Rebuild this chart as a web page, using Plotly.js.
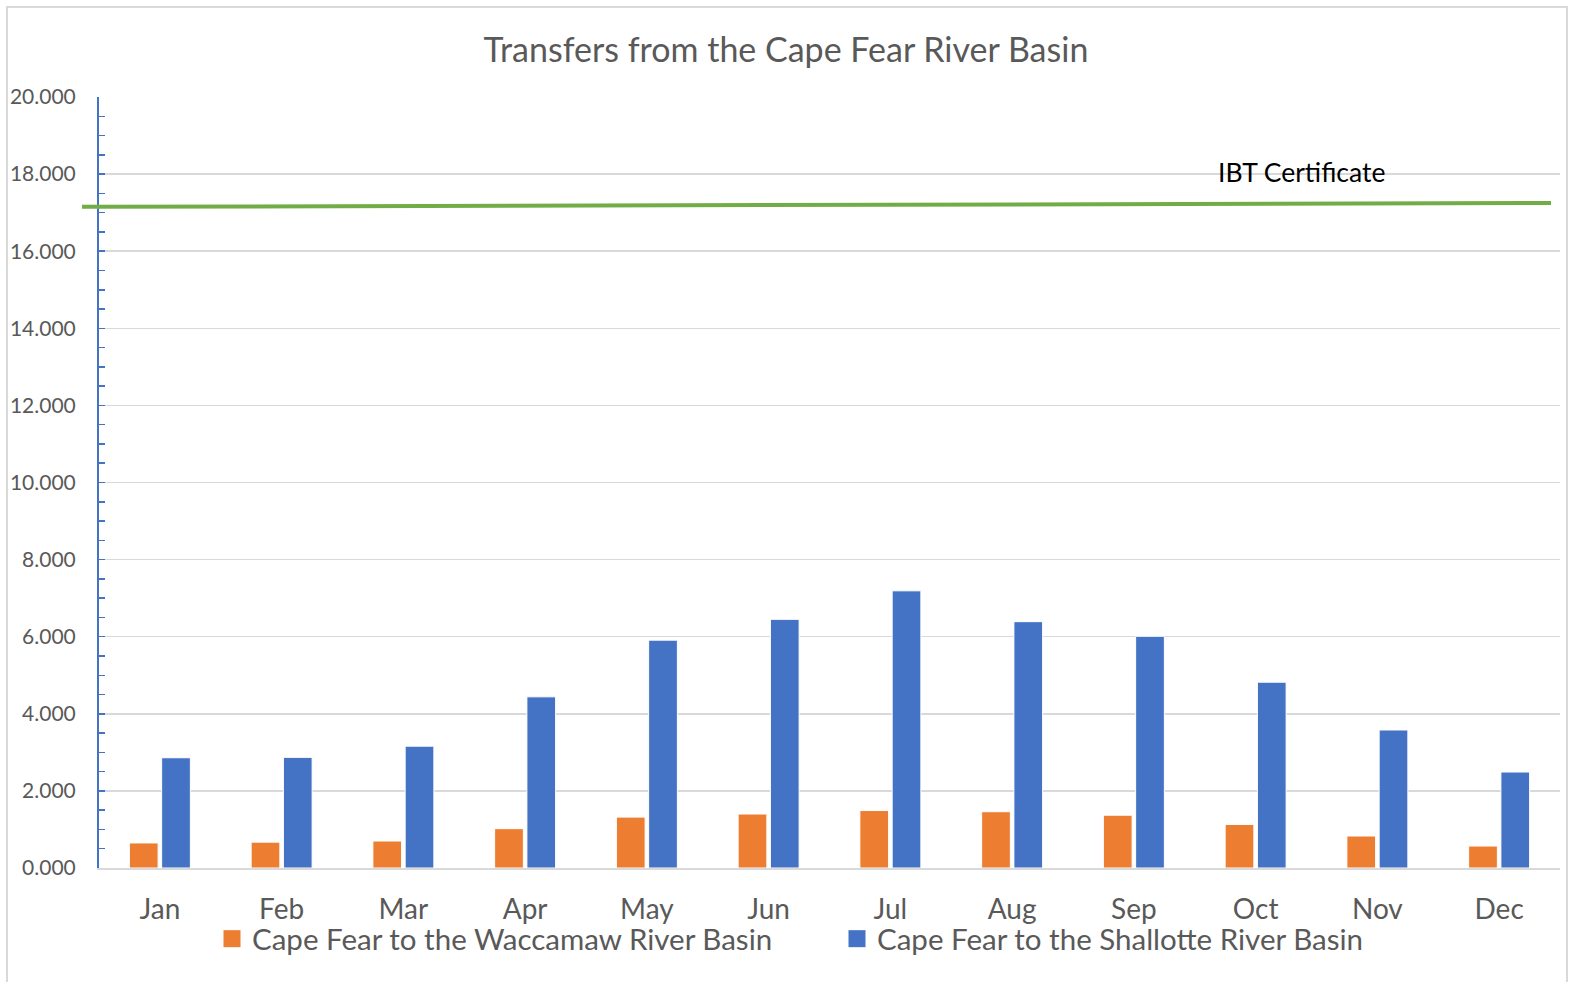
<!DOCTYPE html>
<html>
<head>
<meta charset="utf-8">
<script src="https://cdn.plot.ly/plotly-3.0.1.min.js"></script>
<style>
html,body{margin:0;padding:0;background:#fff;}
#wrap{position:relative;width:1572px;height:982px;overflow:hidden;}
#chart{width:1572px;height:982px;}
#border{position:absolute;left:6px;top:6px;width:1558px;height:1000px;border:2px solid #d9d9d9;pointer-events:none;}
</style>
</head>
<body>
<div id="wrap"><div id="chart"></div><div id="border"></div></div>
<script>
var months = ["Jan","Feb","Mar","Apr","May","Jun","Jul","Aug","Sep","Oct","Nov","Dec"];
var waccamaw = [0.65, 0.67, 0.70, 1.02, 1.32, 1.40, 1.49, 1.46, 1.37, 1.13, 0.83, 0.57];
var shallotte = [2.86, 2.87, 3.16, 4.44, 5.91, 6.45, 7.19, 6.39, 6.01, 4.82, 3.58, 2.49];
var ibtCertificate = [17.15, 17.25];
var seriesNames = ["Cape Fear to the Waccamaw River Basin", "Cape Fear to the Shallotte River Basin"];
var ibtLabel = "IBT Certificate";
var titleText = "Transfers from the Cape Fear River Basin";

var FONT = "Lato, 'Open Sans', sans-serif";
var GRAY = "#595959";

var traces = [
  {type:"bar", x:months, y:waccamaw, name:seriesNames[0],
   marker:{color:"#ED7D31", line:{color:"#ffffff", width:1}}, hoverinfo:"x+y"},
  {type:"bar", x:months, y:shallotte, name:seriesNames[1],
   marker:{color:"#4472C4", line:{color:"#ffffff", width:1}}, hoverinfo:"x+y"}
];

var layout = {
  width:1572, height:982,
  margin:{l:99, r:12, t:97, b:114},
  paper_bgcolor:"#ffffff", plot_bgcolor:"#ffffff",
  font:{family:FONT, color:GRAY},
  title:{text:titleText, font:{family:FONT, size:34, color:GRAY}, x:0.5, xref:"container", y:1-50/982, yref:"container", yanchor:"middle"},
  barmode:"group", bargap:0.47, bargroupgap:0.11,
  showlegend:true,
  legend:{orientation:"h", xref:"container", x:837/1572, xanchor:"center", yref:"container", y:43/982, yanchor:"middle",
          font:{family:FONT, size:29.5, color:GRAY}, entrywidth:580, entrywidthmode:"pixels", traceorder:"normal", bgcolor:"rgba(0,0,0,0)"},
  xaxis:{type:"category", showgrid:false, showline:true, linecolor:"#d9d9d9", linewidth:2,
         ticks:"", tickfont:{family:FONT, size:28, color:GRAY}, ticklabelstandoff:15, fixedrange:true},
  yaxis:{range:[0,20], dtick:2, tickformat:".3f", showgrid:true, gridcolor:"#d9d9d9", gridwidth:1.5,
         zeroline:false, showline:true, linecolor:"#4472C4", linewidth:2,
         ticks:"inside", ticklen:6, tickcolor:"#4472C4", tickwidth:1.5,
         minor:{dtick:0.5, ticks:"inside", ticklen:6, tickcolor:"#4472C4", tickwidth:1.5, showgrid:false},
         tickfont:{family:FONT, size:21, color:GRAY}, ticklabelstandoff:17, fixedrange:true},
  shapes:[
    {type:"line", xref:"paper", yref:"y", x0:-17/1461, x1:1452/1461, y0:ibtCertificate[0], y1:ibtCertificate[1],
     line:{color:"#70AD47", width:4}, layer:"above"}
  ],
  annotations:[
    {xref:"paper", yref:"y", x:(1301.5-99)/1461, y:18.05, text:ibtLabel, showarrow:false,
     font:{family:FONT, size:26.5, color:"#000000"}, xanchor:"center", yanchor:"middle"}
  ]
};

Plotly.newPlot("chart", traces, layout, {displayModeBar:false, staticPlot:true}).then(function(gd){
  var paths = gd.querySelectorAll(".legend .legendpoints path");
  paths.forEach(function(p){ p.setAttribute("d", "M8.5,8.5H-8.5V-8.5H8.5Z"); p.style.strokeWidth = "0"; });
});
</script>
</body>
</html>
